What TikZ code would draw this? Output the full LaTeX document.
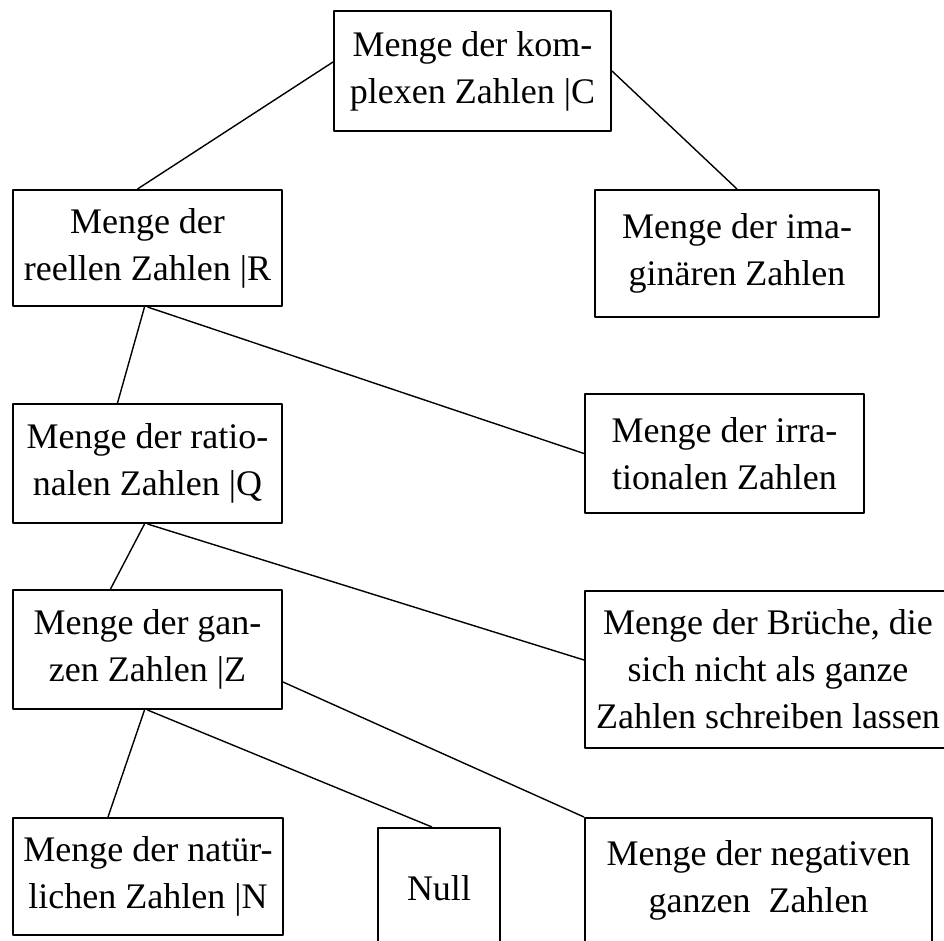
\documentclass[tikz,border=0pt]{standalone}
\usepackage{fontspec}
\setmainfont{Liberation Serif}
\usepackage{tikz}
\usetikzlibrary{positioning,calc}

\begin{document}
\begin{tikzpicture}[x=1pt,y=-1pt, line join=round,
  mengebox/.style={draw, line width=2pt, inner sep=0pt, align=center, font=\fontsize{36}{47}\selectfont},
  kante/.style={line width=1.4pt}]
\useasboundingbox (0,0) rectangle (944,940);
\fill[white] (0,0) rectangle (944,940);
\clip (0,0) rectangle (944,940);
% Mengen
\node[mengebox, minimum width=277pt, minimum height=120pt] (C) at (472.5,71) {Menge der kom-\\plexen Zahlen |C};
\node[mengebox, minimum width=269pt, minimum height=116pt] (R) at (147.5,248) {Menge der\\reellen Zahlen |R};
\node[mengebox, minimum width=284pt, minimum height=127pt] (I) at (737,253.5) {Menge der ima-\\ginären Zahlen};
\node[mengebox, minimum width=269pt, minimum height=119pt] (Q) at (147.5,463.5) {Menge der ratio-\\nalen Zahlen |Q};
\node[mengebox, minimum width=279pt, minimum height=119pt] (Irr) at (724.5,453.5) {Menge der irra-\\tionalen Zahlen};
\node[mengebox, minimum width=269pt, minimum height=119pt] (Z) at (147.5,649.5) {Menge der gan-\\zen Zahlen |Z};
\node[mengebox, minimum width=366pt, minimum height=157pt] (B) at (768,669.5) {Menge der Brüche, die\\sich nicht als ganze\\Zahlen schreiben lassen};
\node[mengebox, minimum width=270pt, minimum height=117pt] (N) at (148,876.5) {Menge der natür-\\lichen Zahlen |N};
\node[mengebox, minimum width=122pt, minimum height=120pt] (Null) at (439,888) {Null};
\node[mengebox, minimum width=347pt, minimum height=125pt] (Neg) at (758.5,880.5) {Menge der negativen\\ganzen\ \ Zahlen};
% Verbindungen
\draw[kante] ([yshift=9pt]C.west) -- ([xshift=-10pt]R.north);
\draw[kante] (C.east) -- (I.north);
\draw[kante] ([xshift=-3pt]R.south) -- ([xshift=-30pt]Q.north);
\draw[kante] (R.south) -- (Irr.west);
\draw[kante] ([xshift=-3pt]Q.south) -- ([xshift=-37pt]Z.north);
\draw[kante] (Q.south) -- ([yshift=9.5pt]B.west);
\draw[kante] ([xshift=-3pt]Z.south) -- ([xshift=-40pt]N.north);
\draw[kante] (Z.south) -- ([xshift=-7pt]Null.north);
\draw[kante] ([yshift=-32.5pt]Z.east) -- (Neg.north west);
\end{tikzpicture}
\end{document}
